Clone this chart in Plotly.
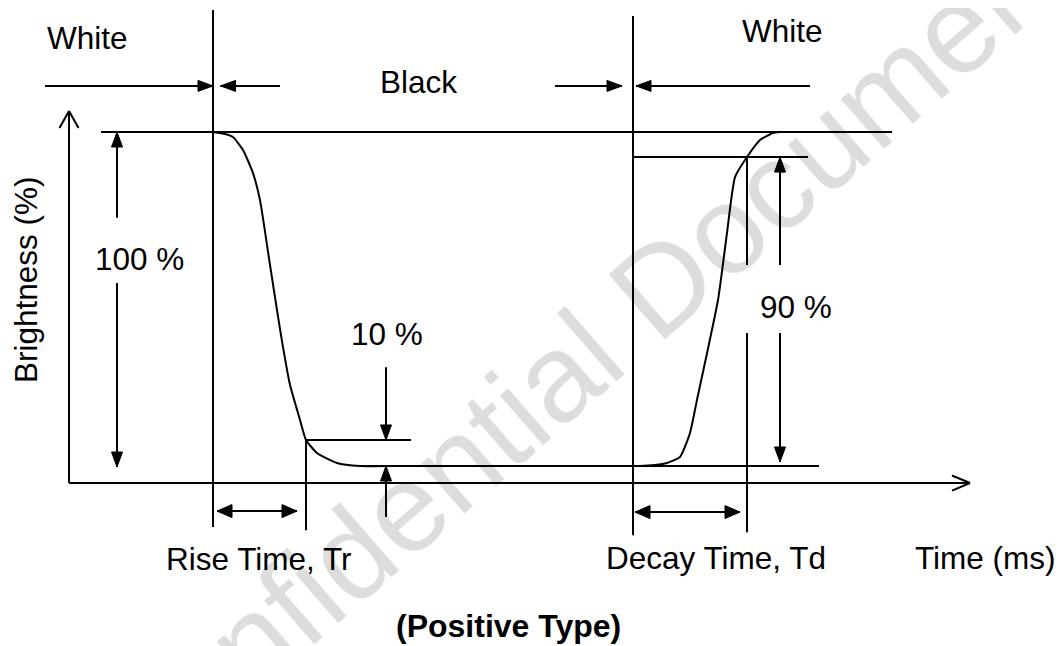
import plotly.graph_objects as go

# ---------------- data (time in diagram units, brightness in %) ----------------
# response curve: white -> black (rise) -> white (decay)
curve_time = [213, 225, 233, 243, 253, 260, 270, 280, 290, 300, 306, 317, 337, 360,
              400, 500, 600, 640, 655, 667, 680, 690, 697, 718, 727, 735, 747, 760, 773, 780]
curve_brightness = [100, 99.4, 98.5, 94.6, 87.7, 79.6, 60.2, 41.0, 24.3, 13.8, 7.8, 3.9, 0.9, 0.0,
                    0.0, 0.0, 0.0, 0.0, 0.3, 0.9, 2.7, 9.9, 19.8, 49.7, 69.8, 86.5, 92.5, 97.6, 99.7, 100]

# key instants
t_black_start = 213
t_rise_end = 306
t_white_start = 633
t_decay_end = 747

# brightness levels
level_white = 100
level_black = 0
level_10 = 7.8
level_90 = 92.5

# text labels
labels = ["White", "Black", "White", "100 %", "10 %", "90 %",
          "Rise Time, Tr", "Decay Time, Td", "Time (ms)"]
label_time = [87.5, 418.5, 782.5, 139, 387, 796, 258.5, 715.5, 985]
label_brightness = [128.0, 115.1, 130.2, 62.0, 39.5, 47.5, -27.8, -27.4, -27.4]

# ---------------- scales ----------------
PAGE_W, PAGE_H = 1064, 646
BODY_MARGIN = 8            # default page margin before the plot div
W, H = PAGE_W - BODY_MARGIN, PAGE_H - BODY_MARGIN
PX_PER_PCT = 3.34
Y0_PX = 466.0  # page row of 0 %
x_range = [BODY_MARGIN, PAGE_W]
y_range = [(Y0_PX - PAGE_H) / PX_PER_PCT, (Y0_PX - BODY_MARGIN) / PX_PER_PCT]

FONT = "Liberation Sans, Arial, sans-serif"
BLACK = "#000000"

seg_x, seg_y = [], []


def seg(x0, y0, x1, y1):
    seg_x.extend([x0, x1, None])
    seg_y.extend([y0, y1, None])


head_x, head_y = [], []


def head(x, y, direction, length=15, half=5.5):
    """filled arrow head with tip at (x, y); sizes in pixels"""
    dy = half / PX_PER_PCT
    ly = length / PX_PER_PCT
    if direction == "right":
        pts = [(x, y), (x - length, y + dy), (x - length, y - dy)]
    elif direction == "left":
        pts = [(x, y), (x + length, y + dy), (x + length, y - dy)]
    elif direction == "up":
        pts = [(x, y), (x - half, y - ly), (x + half, y - ly)]
    else:
        pts = [(x, y), (x - half, y + ly), (x + half, y + ly)]
    for px, py in pts + [pts[0]]:
        head_x.append(px)
        head_y.append(py)
    head_x.append(None)
    head_y.append(None)


axis_level = -5.1
# axes with open arrow heads
seg(69, axis_level, 970, axis_level)
seg(952, axis_level + 2.25, 970, axis_level)
seg(970, axis_level, 952, axis_level - 2.25)
seg(69, axis_level, 69, 106.3)
seg(59.5, 101.2, 69, 106.3)
seg(69, 106.3, 78.5, 101.2)

# reference levels
seg(101, level_white, 892, level_white)
seg(t_white_start, level_90, 808, level_90)
seg(t_rise_end - 1, level_10, 411, level_10)
seg(360, level_black, 819, level_black)

# vertical markers
seg(t_black_start, 136.5, t_black_start, -18.3)
seg(t_white_start, 134.7, t_white_start, -20.7)
seg(t_rise_end, level_10, t_rise_end, -19.2)
seg(t_decay_end, level_90, t_decay_end, 60.2)
seg(t_decay_end, 39.8, t_decay_end, -19.8)

# 100 % dimension
seg(117, level_white, 117, 74.3)
head(117, level_white, "up")
seg(117, 54.8, 117, -0.3)
head(117, -0.3, "down")

# 10 % dimension
seg(386, 29.6, 386, level_10)
head(386, level_10, "down")
seg(386, -15.3, 386, level_black)
head(386, level_black, "up")

# 90 % dimension
seg(780, 60.2, 780, level_90)
head(780, level_90, "up")
seg(780, 39.8, 780, 1.2)
head(780, 1.2, "down")

# top state arrows
top_level = 113.8
seg(45, top_level, t_black_start, top_level)
head(t_black_start, top_level, "right")
seg(280, top_level, 220.5, top_level)
head(220.5, top_level, "left")
seg(555, top_level, 622, top_level)
head(622, top_level, "right")
seg(810, top_level, 636, top_level)
head(636, top_level, "left")

# rise / decay time double arrows
seg(217, -13.5, 297, -13.5)
head(217, -13.5, "left", half=6.5)
head(297, -13.5, "right", half=6.5)
seg(635, -13.8, 740, -13.8)
head(635, -13.8, "left", half=6.5)
head(740, -13.8, "right", half=6.5)

fig = go.Figure()
fig.add_trace(go.Scatter(x=seg_x, y=seg_y, mode="lines",
                         line=dict(color=BLACK, width=2), hoverinfo="skip"))
fig.add_trace(go.Scatter(x=head_x, y=head_y, mode="lines", fill="toself",
                         fillcolor=BLACK, line=dict(color=BLACK, width=1), hoverinfo="skip"))
fig.add_trace(go.Scatter(x=curve_time, y=curve_brightness, mode="lines",
                         line=dict(color=BLACK, width=2, shape="spline", smoothing=0.5),
                         hoverinfo="skip"))

annotations = []
# watermark
annotations.append(dict(x=581, y=33.5, xref="x", yref="y", text="Confidential Document",
                        showarrow=False, textangle=-41,
                        font=dict(family=FONT, size=125, color="rgba(0,0,0,0.10)",
                                  shadow="0 0 1.5px rgba(0,0,0,0.35)")))
for t, xv, yv in zip(labels, label_time, label_brightness):
    annotations.append(dict(x=xv, y=yv, xref="x", yref="y", text=t, showarrow=False,
                            xanchor="center", yanchor="middle",
                            font=dict(family=FONT, size=31.5, color=BLACK)))
annotations.append(dict(x=26, y=55.7, xref="x", yref="y", text="Brightness (%)",
                        showarrow=False, textangle=-90,
                        font=dict(family=FONT, size=31.5, color=BLACK)))
annotations.append(dict(x=508, y=-47.9, xref="x", yref="y", text="<b>(Positive Type)</b>",
                        showarrow=False,
                        font=dict(family=FONT, size=32, color=BLACK)))

fig.update_layout(
    width=W, height=H,
    margin=dict(l=0, r=0, t=0, b=0),
    paper_bgcolor="white", plot_bgcolor="white",
    showlegend=False,
    xaxis=dict(range=x_range, visible=False, fixedrange=True),
    yaxis=dict(range=y_range, visible=False, fixedrange=True),
    annotations=annotations,
)

fig.write_html("out.html")
